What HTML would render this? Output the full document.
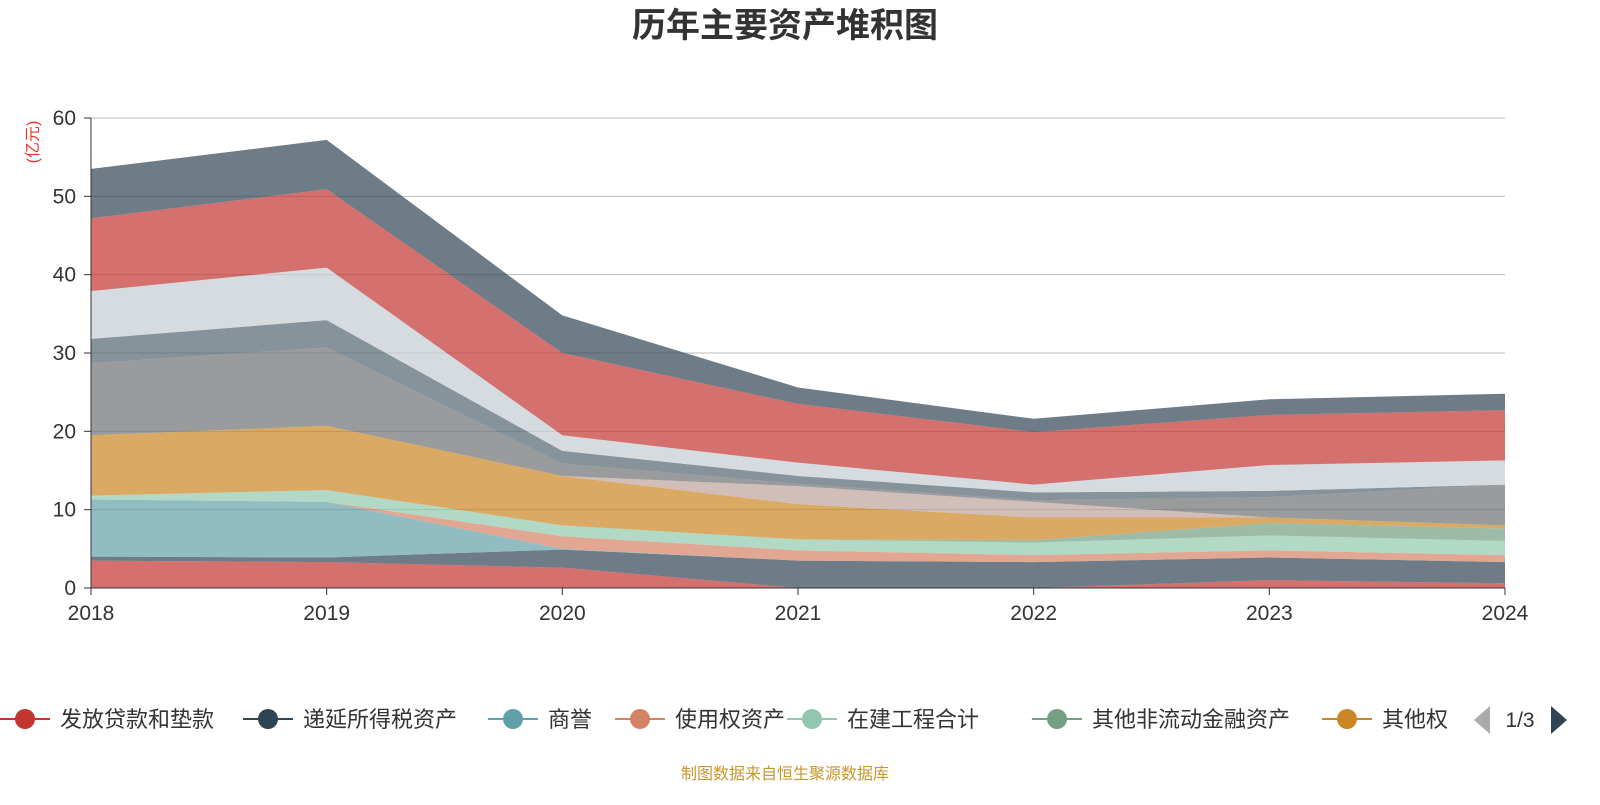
<!DOCTYPE html>
<html><head><meta charset="utf-8"><style>
body{margin:0;background:#fff;width:1600px;height:800px;overflow:hidden;font-family:"Liberation Sans","Noto Sans CJK SC",sans-serif}
</style></head><body>
<svg id="c" width="1600" height="800" style="font-family:'Liberation Sans','Noto Sans CJK SC',sans-serif">
<text x="785" y="37" text-anchor="middle" font-size="34" font-weight="bold" fill="#333">历年主要资产堆积图</text>
<text transform="translate(38,142) rotate(-90)" text-anchor="middle" font-size="16" fill="#e33">(亿元)</text>
<g id="grid"></g><g id="areas"></g><g id="axes"></g><g id="legend"></g>
<text x="785" y="779" text-anchor="middle" font-size="16" fill="#c8962a">制图数据来自恒生聚源数据库</text>
</svg>
<script>
const years=['2018','2019','2020','2021','2022','2023','2024'];
const yTicks=[0,10,20,30,40,50,60];
const s0=[3.5,3.3,2.6,0,0,1.0,0.6];
const s1=[0.5,0.6,2.3,3.5,3.3,2.9,2.7];
const s2=[7.3,7.1,0.1,0,0,0,0];
const s3=[0,0,1.6,1.3,0.9,0.9,0.9];
const s4=[0.5,1.5,1.4,1.4,1.6,1.9,1.8];
const s5=[0,0,0,0,0.3,1.6,1.6];
const s6=[7.7,8.2,6.3,4.5,2.9,0.7,0.4];
const s7=[0,0,0,2.3,2.0,0,0];
const s8=[9.2,10.0,1.6,0.3,0.2,2.6,5.2];
const s9=[3.1,3.5,1.6,1.0,1.0,0.8,0];
const s10=[6.1,6.7,2.0,1.7,1.0,3.3,3.1];
const s11=[9.3,10.0,10.5,7.5,6.7,6.4,6.4];
const s12=[6.3,6.3,4.8,2.1,1.7,2.0,2.1];
const series=[s0,s1,s2,s3,s4,s5,s6,s7,s8,s9,s10,s11,s12];
const colors=['#c23531','#2f4554','#61a0a8','#d48265','#91c7ae','#749f83','#ca8622','#bda29a','#6e7074','#546570','#c4ccd3','#c23531','#2f4554'];
const names=['发放贷款和垫款','递延所得税资产','商誉','使用权资产','在建工程合计','其他非流动金融资产','其他权'];
const X=i=>91+i*(1505-91)/(years.length-1);
const Y=v=>588-v*(470/60);
const NS='http://www.w3.org/2000/svg';
function mk(t,a,p){const e=document.createElementNS(NS,t);for(const k in a)e.setAttribute(k,a[k]);p.appendChild(e);return e;}
const grid=document.getElementById('grid'),areas=document.getElementById('areas'),axes=document.getElementById('axes'),leg=document.getElementById('legend');
yTicks.forEach(t=>{
 if(t>0){const l=mk('line',{x1:91,x2:1505,y1:Y(t),y2:Y(t),stroke:'#bbb','stroke-width':1},grid);
 
 }
 const tx=mk('text',{x:76,y:Y(t)+7,'text-anchor':'end','font-size':21,fill:'#333'},axes);tx.textContent=t;
 
 
 const tk=mk('line',{x1:84,x2:91,y1:Y(t),y2:Y(t),stroke:'#333'},axes);
 
 
});
let base=years.map(()=>0);
series.forEach((s,k)=>{
 const top=base.map((b,i)=>b+s[i]);
 let d='M'+years.map((_,i)=>X(i)+','+Y(top[i])).join('L');
 for(let i=years.length-1;i>=0;i--)d+='L'+X(i)+','+Y(base[i]);
 const p=mk('path',{d:d+'Z',fill:colors[k],'fill-opacity':0.7,stroke:'none'},areas);
 
 
 base=top;
});
const ya=mk('line',{x1:91,x2:91,y1:118,y2:588,stroke:'#333'},axes);


const xa=mk('line',{x1:91,x2:1505,y1:588,y2:588,stroke:'#333'},axes);


years.forEach((y,i)=>{
 const t=mk('text',{x:X(i),y:620,'text-anchor':'middle','font-size':21,fill:'#333'},axes);t.textContent=y;
 
 
 const tk=mk('line',{x1:X(i),x2:X(i),y1:588,y2:595,stroke:'#333'},axes);
 
 
});
const lx=[25,268,513,640,812,1057,1347];
names.forEach((n,i)=>{
 const g=mk('g',{},leg);
 
 
 mk('line',{x1:lx[i]-25,x2:lx[i]+25,y1:719,y2:719,stroke:colors[i],'stroke-width':2},g);
 mk('circle',{cx:lx[i],cy:719,r:10,fill:colors[i]},g);
 const t=mk('text',{x:lx[i]+35,y:727,'font-size':22,fill:'#333'},g);t.textContent=n;
});
const pl=mk('path',{d:'M1490,706L1490,734L1474,720Z',fill:'#aaa'},leg);


const pt=mk('text',{x:1520,y:727,'text-anchor':'middle','font-size':21,fill:'#333'},leg);pt.textContent='1/3';


const pr=mk('path',{d:'M1551,706L1551,734L1567,720Z',fill:'#2f4554'},leg);


</script>
</body></html>
